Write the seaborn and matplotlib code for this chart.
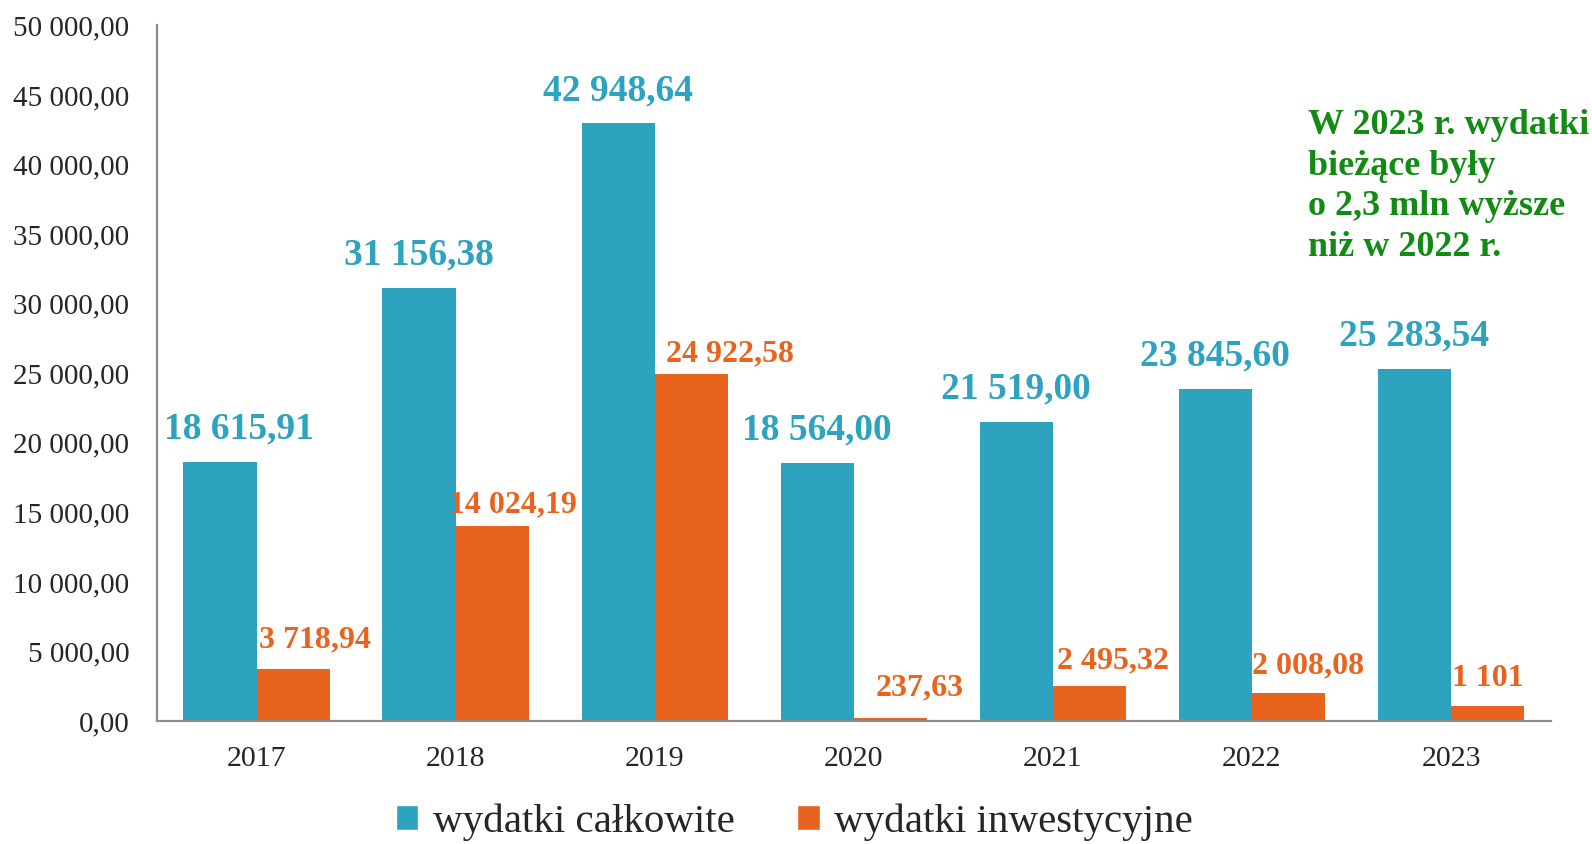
import numpy as np
import pandas as pd
import matplotlib
matplotlib.use("Agg")
import matplotlib.pyplot as plt
import seaborn as sns
from matplotlib.patches import Patch

years = ["2017", "2018", "2019", "2020", "2021", "2022", "2023"]
total = [18615.91, 31156.38, 42948.64, 18564.00, 21519.00, 23845.60, 25283.54]
invest = [3718.94, 14024.19, 24922.58, 237.63, 2495.32, 2008.08, 1101.00]
total_labels = ["18 615,91", "31 156,38", "42 948,64", "18 564,00",
                "21 519,00", "23 845,60", "25 283,54"]
invest_labels = ["3 718,94", "14 024,19", "24 922,58", "237,63",
                 "2 495,32", "2 008,08", "1 101"]
series = ["wydatki całkowite", "wydatki inwestycyjne"]
note = "W 2023 r. wydatki\nbieżące były\no 2,3 mln wyższe\nniż w 2022 r."

BLUE = "#2EA3C0"
ORANGE = "#E8641E"
GREEN = "#138A13"
GREY = "#8C8C8C"

sns.set_style("white")
plt.rcParams['font.family'] = ['Liberation Serif', 'DejaVu Serif']

df = pd.DataFrame({
    "rok": years * 2,
    "wartosc": total + invest,
    "seria": [series[0]] * len(years) + [series[1]] * len(years),
})

fig = plt.figure(figsize=(15.92, 8.44), dpi=100)
ax = fig.add_axes([0.0986, 0.1457, 0.8754, 0.8243])

sns.barplot(data=df, x="rok", y="wartosc", hue="seria", order=years,
            hue_order=series, palette=[BLUE, ORANGE], width=0.735,
            saturation=1, errorbar=None, legend=False, linewidth=0, ax=ax)

ax.set_xlim(-0.5, len(years) - 0.5)
ax.set_ylim(0, 50000)
ax.set_yticks(np.arange(0, 50001, 5000))
ax.set_yticklabels([f"{v:,.2f}".replace(",", " ").replace(".", ",")
                    for v in np.arange(0, 50001, 5000)])
ax.tick_params(axis="y", length=0, pad=20, labelsize=21)
ax.tick_params(axis="x", length=0, pad=18, labelsize=21.5)
ax.set_xlabel("")
ax.set_ylabel("")

for side in ["top", "right"]:
    ax.spines[side].set_visible(False)
for side in ["left", "bottom"]:
    ax.spines[side].set_color(GREY)
    ax.spines[side].set_linewidth(1.6)

# value labels
bw = 0.735 / 2
total_dx = [14, 0, 0, 0, 0, 0, 0]
invest_dx = [16, 15, 28, 21, 17, 14, 0]
invest_dy = [11, 5, 4, 11, 8, 9, 9]
for i in range(len(years)):
    ax.annotate(total_labels[i], (i - bw / 2, total[i]), xytext=(total_dx[i], 11),
                textcoords="offset points", ha="center", va="bottom",
                fontsize=27, fontweight="bold", color=BLUE)
    ax.annotate(invest_labels[i], (i + bw / 2, invest[i]), xytext=(invest_dx[i], invest_dy[i]),
                textcoords="offset points", ha="center", va="bottom",
                fontsize=23, fontweight="bold", color=ORANGE)

fig.text(0.8215, 0.871, note, ha="left", va="top", fontsize=26,
         fontweight="bold", color=GREEN, linespacing=1.31)

handles = [Patch(facecolor=BLUE), Patch(facecolor=ORANGE)]
fig.legend(handles, series, loc="center", bbox_to_anchor=(0.499, 0.026), ncol=2,
           frameon=False, fontsize=29.5, handlelength=0.55, handleheight=0.55,
           handletextpad=0.35, columnspacing=1.53)

fig.savefig("out.png", dpi=100)
